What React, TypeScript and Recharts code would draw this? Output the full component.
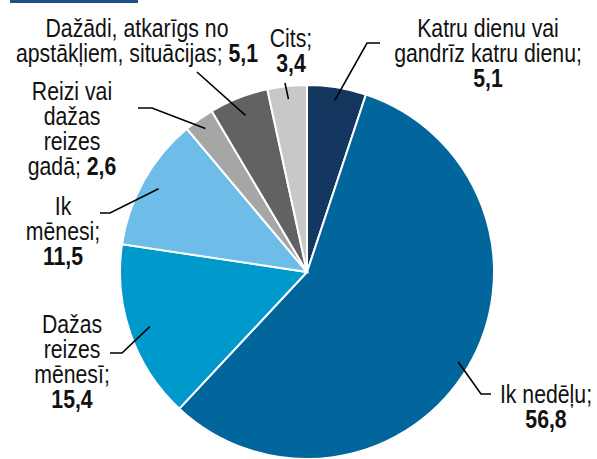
import React from "react";
import { PieChart, Pie, Cell } from "recharts";

const categories = [
  "Katru dienu vai gandrīz katru dienu",
  "Ik nedēļu",
  "Dažas reizes mēnesī",
  "Ik mēnesi",
  "Reizi vai dažas reizes gadā",
  "Dažādi, atkarīgs no apstākļiem, situācijas",
  "Cits",
];
const values = [5.1, 56.8, 15.4, 11.5, 2.6, 5.1, 3.4];
const labelLines = [
  ["Katru dienu vai", "gandrīz katru dienu;"],
  ["Ik nedēļu;"],
  ["Dažas", "reizes", "mēnesī;"],
  ["Ik", "mēnesi;"],
  ["Reizi vai", "dažas", "reizes", "gadā;"],
  ["Dažādi, atkarīgs no", "apstākļiem, situācijas;"],
  ["Cits;"],
];
const colors = ["#13375f", "#00669c", "#0099cc", "#6dbde8", "#a6a6a6", "#626262", "#c8c8c8"];

// label layout (positions only)
const layout = [
  { x: 488, y: 37, inline: false, path: [[367, 43], [380, 43]], rf: 0.93 },
  { x: 546, y: 403, inline: false, path: [[481, 394], [491, 394]], rf: 0.94 },
  { x: 72, y: 333, inline: false, path: [[122, 353], [110, 353]], rf: 0.89 },
  { x: 63, y: 215, inline: false, path: [[110, 213], [100, 213]], rf: 0.91 },
  { x: 72, y: 100, inline: true, path: [[152, 108], [138, 108]], rf: 0.94 },
  { x: 137, y: 37, inline: true, path: [[197, 72]], rf: 0.9 },
  { x: 291, y: 47, inline: false, path: [[285, 83]], rf: 0.93 },
];

const data = categories.map((name, i) => ({ name, value: values[i] }));
const FONT = "'Liberation Sans', Arial, sans-serif";
const FS = 25;
const SX = 0.85;
const LH = 25;
const RAD = Math.PI / 180;
const fmt = (v: number) => v.toFixed(1).replace(".", ",");

const renderLabel = (props: any) => {
  const { cx, cy, midAngle, outerRadius, index } = props;
  const L = layout[index];
  const r = outerRadius * L.rf;
  const ax = cx + r * Math.cos(-midAngle * RAD);
  const ay = cy + r * Math.sin(-midAngle * RAD);
  const pts = [[ax, ay], ...L.path];
  const d = pts.map((p, k) => (k === 0 ? "M" : "L") + p[0] + "," + p[1]).join(" ");
  const lines = labelLines[index];
  const val = fmt(values[index]);
  const nodes: React.ReactNode[] = lines.map((t, k) => {
    const isLast = k === lines.length - 1;
    return (
      <text key={k} x={0} y={L.y + k * LH} textAnchor="middle" fontFamily={FONT} fontSize={FS} fill="#111">
        {t}
        {isLast && L.inline ? <tspan fontWeight="bold">{" " + val}</tspan> : null}
      </text>
    );
  });
  if (!L.inline) {
    nodes.push(
      <text key="v" x={0} y={L.y + lines.length * LH} textAnchor="middle" fontFamily={FONT} fontSize={FS} fontWeight="bold" fill="#111">
        {val}
      </text>
    );
  }
  return (
    <g key={"lbl" + index}>
      <path d={d} stroke="#000" strokeWidth={1.6} fill="none" />
      <g transform={`translate(${L.x},0) scale(${SX},1)`}>{nodes}</g>
    </g>
  );
};

export default function App() {
  return (
    <div style={{ position: "absolute", left: 0, top: 0, width: 597, height: 459, background: "#fff" }}>
      <div style={{ position: "absolute", left: 10, top: 0, width: 128, height: 3, background: "#1f4f8b" }} />
      <PieChart width={597} height={459} margin={{ top: 0, right: 0, bottom: 0, left: 0 }}>
        <Pie
          data={data}
          dataKey="value"
          nameKey="name"
          cx={307}
          cy={272}
          outerRadius={187}
          startAngle={90}
          endAngle={-270}
          stroke="#fff"
          strokeWidth={2}
          label={renderLabel}
          labelLine={false}
          isAnimationActive={false}
        >
          {data.map((d, i) => (
            <Cell key={d.name} fill={colors[i]} />
          ))}
        </Pie>
      </PieChart>
    </div>
  );
}
